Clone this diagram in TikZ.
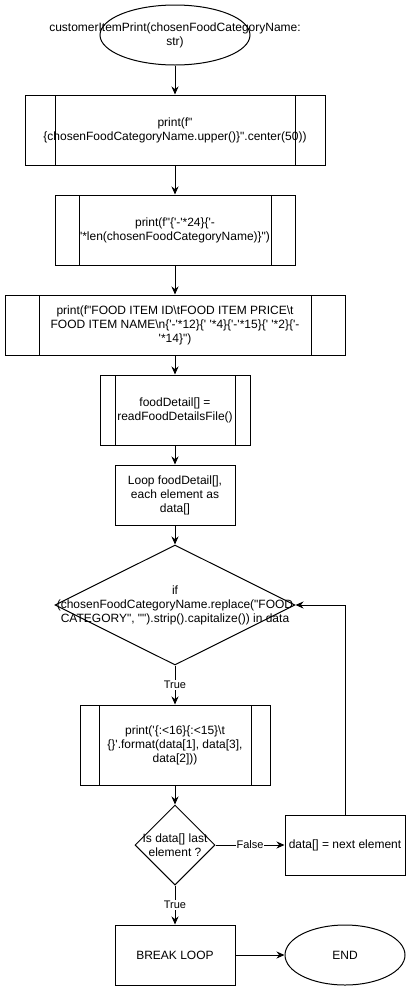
\documentclass[tikz,border=0pt]{standalone}
\usepackage{fontspec}
\newfontfamily\diofont{Liberation Sans}
\usetikzlibrary{shapes.geometric,arrows.meta,calc}

\tikzset{
  flow/.style={draw, line width=1pt, inner sep=0pt, align=center,
    font=\diofont\fontsize{12}{14}\selectfont},
  txt/.style={align=center, inner sep=0pt, font=\diofont\fontsize{12}{14}\selectfont},
  procbox/.style={flow, rectangle},
  subbox/.style={procbox, path picture={
    \draw[line width=1pt] ($(path picture bounding box.north west)!0.1!(path picture bounding box.north east)$)
      -- ($(path picture bounding box.south west)!0.1!(path picture bounding box.south east)$);
    \draw[line width=1pt] ($(path picture bounding box.north west)!0.9!(path picture bounding box.north east)$)
      -- ($(path picture bounding box.south west)!0.9!(path picture bounding box.south east)$);
  }},
  terminal/.style={flow, ellipse},
  decision/.style={flow, diamond},
  arr/.style={line width=1pt, -{Stealth[length=8pt,width=7pt]}},
  edgelbl/.style={fill=white, inner sep=1pt, font=\diofont\fontsize{11}{13}\selectfont}
}

\begin{document}
\begin{tikzpicture}[x=1pt,y=-1pt]
\useasboundingbox (0,0) rectangle (411,991);

\node[terminal, minimum width=150pt, minimum height=60pt,
  label={[txt]center:{customerItemPrint(chosenFoodCategoryName:\\str)}}] (start) at (175,35) {};

\node[subbox, minimum width=300pt, minimum height=70pt] (header) at (175,130)
  {print(f"\\\{chosenFoodCategoryName.upper()\}".center(50))};
\node[subbox, minimum width=240pt, minimum height=70pt] (dashes) at (175,230)
  {print(f"\{'-'*24\}\{'-\\'*len(chosenFoodCategoryName)\}")};
\node[subbox, minimum width=340pt, minimum height=60pt] (columns) at (175,325)
  {print(f"FOOD ITEM ID\textbackslash tFOOD ITEM PRICE\textbackslash t\\FOOD ITEM NAME\textbackslash n\{'-'*12\}\{' '*4\}\{'-'*15\}\{' '*2\}\{'-\\'*14\}")};
\node[subbox, minimum width=150pt, minimum height=70pt] (readfile) at (175,410)
  {foodDetail[] =\\readFoodDetailsFile()};
\node[procbox, minimum width=120pt, minimum height=60pt] (loop) at (175,495)
  {Loop foodDetail[],\\each element as\\data[]};

\node[decision, minimum width=240pt, minimum height=120pt,
  label={[txt]center:{if\\(chosenFoodCategoryName.replace("FOOD\\CATEGORY", "").strip().capitalize()) in data}}] (match) at (175,605) {};

\node[subbox, minimum width=190pt, minimum height=80pt] (itemline) at (175,745)
  {print('\{:<16\}\{:<15\}\textbackslash t\\\{\}'.format(data[1], data[3],\\data[2]))};
\node[decision, minimum width=80pt, minimum height=80pt,
  label={[txt]center:{Is data[] last\\element ?}}] (last) at (175,845) {};
\node[procbox, minimum width=120pt, minimum height=60pt] (next) at (345,845)
  {data[] = next element};

\node[procbox, minimum width=120pt, minimum height=60pt] (break) at (175,955) {BREAK LOOP};
\node[terminal, minimum width=120pt, minimum height=60pt] (end) at (345,955) {END};

\draw[arr] (start) -- (header);
\draw[arr] (header) -- (dashes);
\draw[arr] (dashes) -- (columns);
\draw[arr] (columns) -- (readfile);
\draw[arr] (readfile) -- (loop);
\draw[arr] (loop) -- (match);
\draw[arr] (match) -- node[edgelbl]{True} (itemline);
\draw[arr] (itemline) -- (last);
\draw[arr] (last) -- node[edgelbl]{False} (next);
\draw[arr] (next.north) |- (match.east);
\draw[arr] (last) -- node[edgelbl]{True} (break);
\draw[arr] (break) -- (end);

\end{tikzpicture}
\end{document}
